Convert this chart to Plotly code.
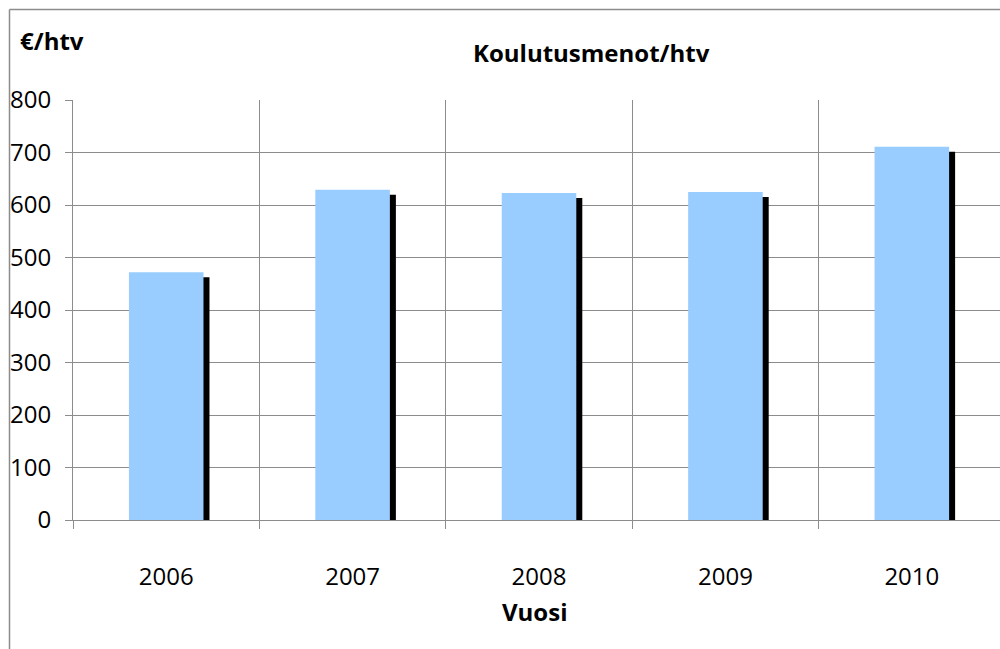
import plotly.graph_objects as go

years = ["2006", "2007", "2008", "2009", "2010"]
values = [472, 629, 623, 625, 711]
y_ticks = [0, 100, 200, 300, 400, 500, 600, 700, 800]

FONT = "Open Sans, Liberation Sans, sans-serif"
GRID = "#8c8c8c"

# shadow offsets (style)
sx = 6 / 186.4
sy = 5 / 0.525
bw = 0.40

fig = go.Figure()
fig.add_trace(go.Bar(
    x=years, y=[v - sy for v in values], width=bw, offset=-bw / 2 + sx,
    marker=dict(color="black", line=dict(width=0)), hoverinfo="skip", showlegend=False))
fig.add_trace(go.Bar(
    x=years, y=values, width=bw, offset=-bw / 2,
    marker=dict(color="#99CCFF", line=dict(width=0)), showlegend=False))

fig.update_layout(
    width=1000, height=649, barmode="overlay",
    margin=dict(l=73, r=0, t=100, b=129),
    paper_bgcolor="white", plot_bgcolor="white",
    font=dict(family=FONT, size=24, color="black"),
    xaxis=dict(type="category", range=[-0.5, 4.473], tickson="boundaries",
               showgrid=True, gridcolor=GRID, gridwidth=1,
               ticks="outside", ticklen=8, tickcolor=GRID,
               showline=True, linecolor=GRID, linewidth=1,
               ticklabelstandoff=35, tickfont=dict(size=24)),
    yaxis=dict(range=[0, 800], tickvals=y_ticks, showgrid=True, gridcolor=GRID,
               ticks="outside", ticklen=7, tickcolor=GRID,
               showline=True, linecolor=GRID, linewidth=1, zeroline=False,
               ticklabelstandoff=9, tickfont=dict(size=24)),
)

# outer frame (top and left edges visible)
x0 = (9.5 - 73) / 927
ytop = (520 - 9.5) / 420
ybot = (520 - 660) / 420
fig.add_shape(type="line", xref="paper", yref="paper", x0=x0, x1=1.1, y0=ytop, y1=ytop,
              line=dict(color="#8c8c8c", width=1.5))
fig.add_shape(type="line", xref="paper", yref="paper", x0=x0, x1=x0, y0=ytop, y1=ybot,
              line=dict(color="#8c8c8c", width=1.5))

fig.add_annotation(text="<b>€/htv</b>", xref="paper", yref="paper",
                   x=(18 - 73) / 927, y=(520 - 40) / 420, xanchor="left", yanchor="middle",
                   showarrow=False, font=dict(size=24))
fig.add_annotation(text="<b>Koulutusmenot/htv</b>", xref="paper", yref="paper",
                   x=(591 - 73) / 927, y=(520 - 53) / 420, xanchor="center", yanchor="middle",
                   showarrow=False, font=dict(size=24))
fig.add_annotation(text="<b>Vuosi</b>", xref="paper", yref="paper",
                   x=(534 - 73) / 927, y=(520 - 611) / 420, xanchor="center", yanchor="middle",
                   showarrow=False, font=dict(size=24))

fig.write_html("out.html", config={"displayModeBar": False},
               post_script="document.body.style.margin='0';")
